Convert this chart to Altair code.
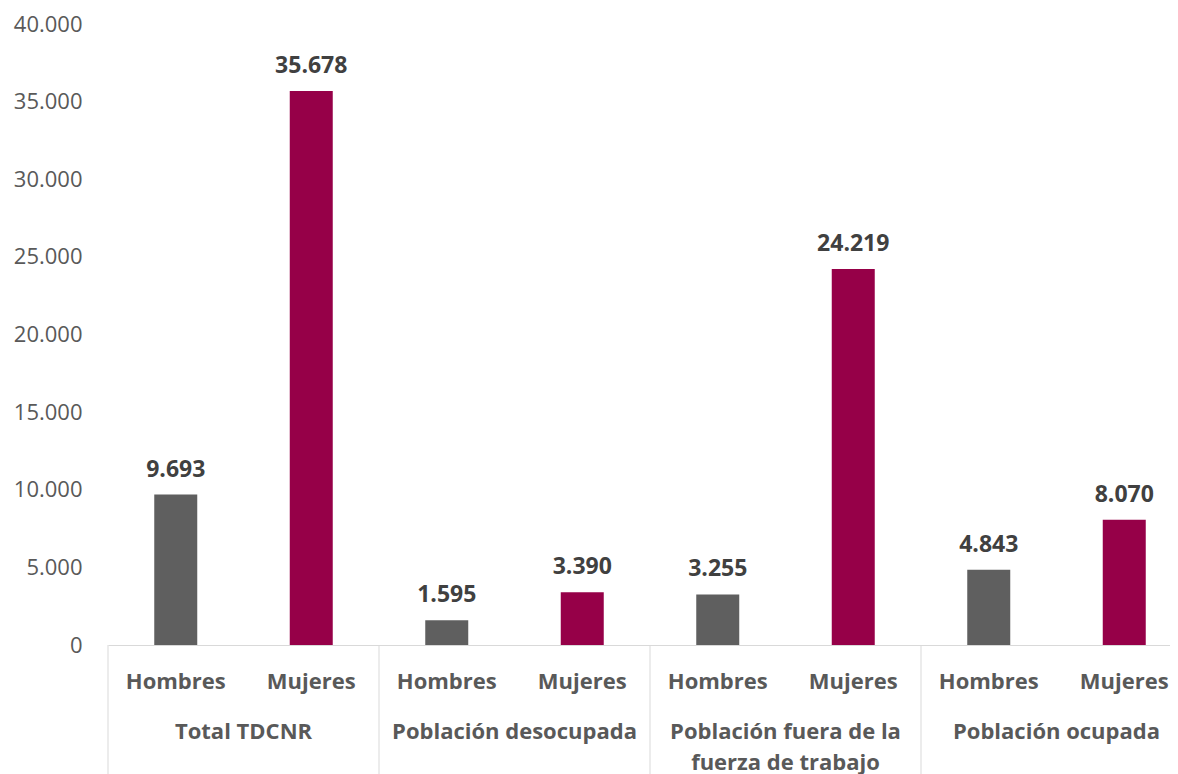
import altair as alt
import pandas as pd

groups = ["Total TDCNR", "Población desocupada", "Población fuera de la\nfuerza de trabajo", "Población ocupada"]
sexes = ["Hombres", "Mujeres"]
hombres = [9693, 1595, 3255, 4843]
mujeres = [35678, 3390, 24219, 8070]
y_ticks = [0, 5000, 10000, 15000, 20000, 25000, 30000, 35000, 40000]

rows = []
for g, h, m in zip(groups, hombres, mujeres):
    rows.append({"group": g, "sex": "Hombres", "value": h, "key": g + "|Hombres"})
    rows.append({"group": g, "sex": "Mujeres", "value": m, "key": g + "|Mujeres"})
df = pd.DataFrame(rows)
keys = list(df["key"])
df_h = df[df["sex"] == "Hombres"]
df_last = df.tail(1)

GREY_TXT = "#595959"
FONT = "Open Sans"

x_scale = alt.Scale(domain=keys, range=[0, 1084], paddingInner=0, paddingOuter=0)
x_axis = alt.Axis(
    title=None, labelExpr="split(datum.label, '|')[1]", labelAngle=0,
    ticks=False, tickSize=0, domainColor="#d9d9d9", domainWidth=1,
    labelFont=FONT, labelFontSize=22, labelFontWeight="bold", labelColor=GREY_TXT,
    labelBaseline="alphabetic", labelPadding=43, grid=False,
)
y_enc = alt.Y(
    "value:Q",
    scale=alt.Scale(domain=[0, 40000], nice=False),
    axis=alt.Axis(
        values=y_ticks, labelExpr="replace(format(datum.value, ','), ',', '.')",
        grid=False, domain=False, ticks=False, labelFont=FONT, labelFontSize=22,
        labelColor=GREY_TXT, labelPadding=26, title=None,
    ),
)

base = alt.Chart(df)

bars = base.mark_bar(size=43).encode(
    x=alt.X("key:N", scale=x_scale, axis=x_axis, sort=keys),
    y=y_enc,
    color=alt.Color("sex:N", scale=alt.Scale(domain=sexes, range=["#5f5f5f", "#960048"]), legend=None),
)

labels = base.mark_text(
    dy=-18, baseline="alphabetic", fontWeight="bold", fontSize=23, font=FONT, color="#404040"
).transform_calculate(
    lbl="replace(format(datum.value, ','), ',', '.')"
).encode(
    x=alt.X("key:N", scale=x_scale, axis=x_axis, sort=keys),
    y=alt.Y("value:Q"),
    text="lbl:N",
)

group_labels = alt.Chart(df_h).mark_text(
    baseline="alphabetic", lineBreak="\n", lineHeight=31, fontWeight="bold",
    fontSize=22, font=FONT, color=GREY_TXT,
).encode(
    x=alt.X("key:N", scale=x_scale, axis=x_axis, sort=keys, bandPosition=1),
    y=alt.value(715),
    text="group:N",
)

sep_left = alt.Chart(df_h).mark_rule(color="#d9d9d9", strokeWidth=1).encode(
    x=alt.X("key:N", scale=x_scale, axis=x_axis, sort=keys, bandPosition=0),
    y=alt.value(621),
    y2=alt.value(760),
)
sep_right = alt.Chart(df_last).mark_rule(color="#d9d9d9", strokeWidth=1).encode(
    x=alt.X("key:N", scale=x_scale, axis=x_axis, sort=keys, bandPosition=1),
    y=alt.value(621),
    y2=alt.value(760),
)

chart = alt.layer(sep_left, sep_right, bars, labels, group_labels).properties(
    width=1062, height=621,
    background="white",
    autosize=alt.AutoSizeParams(type="none"),
    padding={"left": 100, "top": 16, "right": 0, "bottom": 129},
).configure_view(stroke="transparent", strokeWidth=0)

chart.save("out.html", embed_options={"renderer": "svg", "actions": False})
